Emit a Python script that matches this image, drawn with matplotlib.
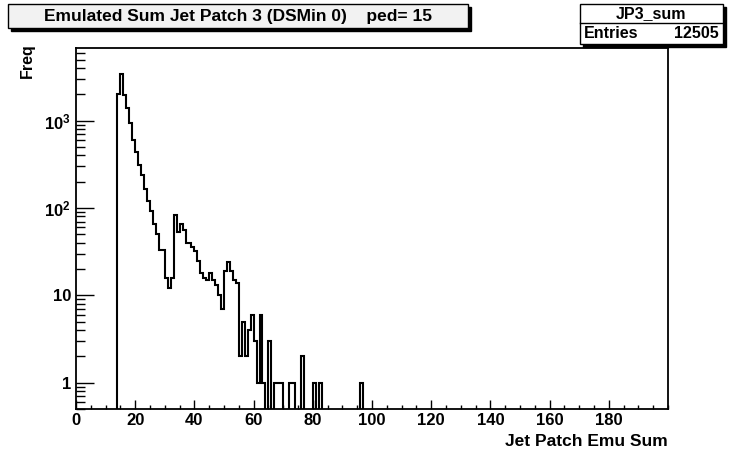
import numpy as np
import matplotlib
matplotlib.use("Agg")
import matplotlib.pyplot as plt
from matplotlib.patches import Rectangle
from matplotlib.ticker import FixedLocator, MultipleLocator

plt.rcParams['font.family'] = ['Liberation Sans', 'DejaVu Sans']
plt.rcParams['font.weight'] = 'bold'
plt.rcParams['mathtext.fontset'] = 'custom'
plt.rcParams['mathtext.rm'] = 'Liberation Sans:bold'
plt.rcParams['mathtext.bf'] = 'Liberation Sans:bold'
plt.rcParams['mathtext.it'] = 'Liberation Sans:bold'

# histogram: 200 bins of width 1 from 0 to 200, first filled bin is 14
n_bins = 200
x_min, x_max = 0, 200
first_bin = 14
counts = [2040, 3390, 1950, 1380, 940, 600, 440, 310, 240, 166,      # 14-23
          119, 93, 65, 51, 33, 33, 16, 12, 16, 83,                   # 24-33
          53, 66, 56, 40, 40, 36, 32, 25, 18, 16,                    # 34-43
          15, 18, 15, 13, 10, 7, 19, 24, 19, 15,                     # 44-53
          14, 2, 5, 2, 4, 6, 3, 1, 6, 1,                             # 54-63
          0, 3, 0, 1, 1, 1, 0, 0, 1, 1,                              # 64-73
          0, 0, 2, 0, 0, 0, 1, 0, 1, 0,                              # 74-83
          0, 0, 0, 0, 0, 0, 0, 0, 0, 0,                              # 84-93
          0, 0, 1]                                                   # 94-96
entries = 12505
hist_name = "JP3_sum"
title = "Emulated Sum Jet Patch 3 (DSMin 0)    ped= 15"
x_title = "Jet Patch Emu Sum"
y_title = "Freq"
x_major = list(range(0, 181, 20))
y_major = [1, 10, 100, 1000]
y_major_labels = ['1', '10', r'$10^{2}$', r'$10^{3}$']

values = np.zeros(n_bins)
values[first_bin:first_bin + len(counts)] = counts
edges = np.linspace(x_min, x_max, n_bins + 1)

W, H = 729, 455
fig = plt.figure(figsize=(W / 100, H / 100), dpi=100)


def fx(px):
    return px / W


def fy(py):
    return 1 - py / H


ax = fig.add_axes([fx(76), fy(409), fx(668) - fx(76), fy(48) - fy(409)])
ax.set_yscale('log')
ax.stairs(np.where(values > 0, values, 1e-3), edges, color='black',
          linewidth=1.5, baseline=None)
ax.set_xlim(x_min, x_max)
# log y range like ROOT: half the smallest filled bin up to twice the peak
ax.set_ylim(0.5 * min(c for c in counts if c > 0), 2 * max(counts))

ax.xaxis.set_major_locator(FixedLocator(x_major))
ax.xaxis.set_minor_locator(MultipleLocator(5))
ax.yaxis.set_major_locator(FixedLocator(y_major))
ax.set_yticklabels(y_major_labels)
minor_y = [m * 10.0 ** d for d in range(-1, 4) for m in range(2, 10)]
ax.yaxis.set_minor_locator(FixedLocator(minor_y))
ax.yaxis.set_minor_formatter(plt.NullFormatter())

ax.tick_params(axis='x', which='major', direction='in', length=6.5, width=1,
               labelsize=12, pad=3)
ax.tick_params(axis='x', which='minor', direction='in', length=3.2, width=1)
ax.tick_params(axis='y', which='major', direction='in', length=13, width=1,
               labelsize=12, pad=3.5)
ax.tick_params(axis='y', which='minor', direction='in', length=6.5, width=1)
for s in ax.spines.values():
    s.set_linewidth(1.3)

fig.text(fx(668), fy(441), x_title, ha='right', va='center', fontsize=12.5,
         fontweight='bold')
fig.text(fx(27), fy(43), y_title, ha='right', va='center', rotation=90,
         rotation_mode='anchor', fontsize=11.5, fontweight='bold')


def shadow_box(x0, y0, x1, y1, face):
    fig.patches.append(Rectangle((fx(x0 + 3), fy(y1 + 3)), fx(x1) - fx(x0),
                                 fy(y0) - fy(y1), transform=fig.transFigure,
                                 facecolor='black', edgecolor='black', lw=1))
    fig.patches.append(Rectangle((fx(x0), fy(y1)), fx(x1) - fx(x0),
                                 fy(y0) - fy(y1), transform=fig.transFigure,
                                 facecolor=face, edgecolor='black', lw=1))


# title box
shadow_box(8, 4, 468, 28, '#f2f2f2')
fig.text(fx(238), fy(16), title, ha='center', va='center', fontsize=12.5,
         fontweight='bold')

# stats box
shadow_box(580, 4, 723, 44, 'white')
fig.lines.append(plt.Line2D([fx(580), fx(723)], [fy(23), fy(23)],
                            transform=fig.transFigure, color='black', lw=1))
fig.text(fx(651), fy(13.5), hist_name, ha='center', va='center', fontsize=11.5,
         fontweight='bold')
fig.text(fx(584), fy(33.5), "Entries", ha='left', va='center', fontsize=11.5,
         fontweight='bold')
fig.text(fx(719), fy(33.5), str(entries), ha='right', va='center',
         fontsize=11.5, fontweight='bold')

fig.savefig("out.png", dpi=100)
